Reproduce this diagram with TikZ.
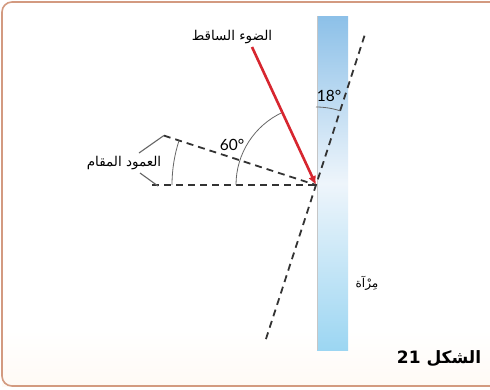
\documentclass[tikz,border=0pt]{standalone}
\usepackage{fontspec}
\setmainfont{Lato}
\newfontfamily\arabicfont[Script=Arabic]{DejaVu Sans}
\TeXXeTstate=1
\usetikzlibrary{arrows.meta,calc}
\definecolor{framec}{HTML}{D39A80}
\definecolor{raycol}{HTML}{D7262F}
\definecolor{dashc}{HTML}{333333}
\definecolor{arcc}{HTML}{666666}
\definecolor{mirtop}{HTML}{8CC0E8}
\definecolor{mirmid}{HTML}{EEF5FB}
\definecolor{mirbot}{HTML}{9CD6F2}
\tikzset{
  dashline/.style={draw=dashc,line width=1.8pt,dash pattern=on 7pt off 5pt},
  anglearc/.style={draw=arcc,line width=0.8pt},
  pointer/.style={draw=arcc,line width=1.1pt},
  ray/.style={draw=raycol,line width=2.6pt,-{Latex[length=9pt,width=8pt]}},
  arlabel/.style={font=\arabicfont\fontsize{13.5}{15}\selectfont,inner sep=0pt},
  deg/.style={font=\fontsize{15.5}{17}\selectfont,inner sep=0pt},
}
\begin{document}
\begin{tikzpicture}[x=1pt,y=1pt]
\useasboundingbox (0,0) rectangle (490,-389);
\clip (0,0) rectangle (490,-389);
% background
\fill[white] (0,0) rectangle (490,-389);
\shade[top color=white,bottom color=white!90!orange!40] (2,-330) rectangle (495,-386);
\draw[framec,line width=1.6pt,rounded corners=10pt] (500,-2) -- (2,-2) -- (2,-386) -- (500,-386);
% mirror
\shade[top color=mirtop,bottom color=mirbot,middle color=mirmid] (317,-16) rectangle (348,-350);
\draw[draw=gray!45,line width=0.6pt] (317,-16) -- (317,-350);
% contact point
\coordinate (C) at (316,-185);
\coordinate (tiltTop) at ($(C)+(72:158)$);
\coordinate (tiltBot) at ($(C)+(252:162)$);
\coordinate (normEnd) at ($(C)+(162:160)$);
\coordinate (horEnd) at ($(C)+(180:164)$);
\coordinate (rayStart) at (252,-47);
% dashed lines
\draw[dashline] (tiltBot) -- (tiltTop);
\draw[dashline] (normEnd) -- (C);
\draw[dashline] (horEnd) -- (C);
% arcs
\draw[anglearc] ($(C)+(180:80)$) arc[start angle=180,end angle=114.5,radius=80];
\draw[anglearc] ($(C)+(180:144)$) arc[start angle=180,end angle=162,radius=144];
\draw[anglearc] ($(C)+(90:78)$) arc[start angle=90,end angle=72,radius=78];
% incident ray
\draw[ray] (rayStart) -- (C);
% labels
\node[arlabel] (incident) at (232,-37) {\beginR الضوء الساقط\endR};
\node[arlabel] (normal) at (124,-163) {\beginR العمود المقام\endR};
\node[arlabel,font=\arabicfont\fontsize{12}{14}\selectfont] (mirlabel) at (367,-283) {\beginR مِرْآة\endR};
\node[deg] (sixty) at (232,-145) {60°};
\node[deg] (eighteen) at (329,-96) {18°};
\node[font=\arabicfont\bfseries\fontsize{17}{20}\selectfont,inner sep=0pt] (fig) at (439,-359) {\beginR الشكل \beginL 21\endL\endR};
% pointers
\coordinate (pA) at (139,-153);
\coordinate (pB) at (140,-173);
\draw[pointer] (pA) -- (normEnd);
\draw[pointer] (pB) -- (158,-186);
\end{tikzpicture}
\end{document}
